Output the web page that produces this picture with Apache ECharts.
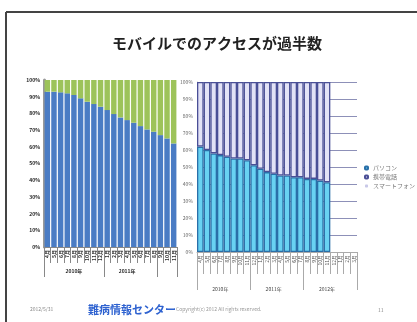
<!DOCTYPE html>
<html><head><meta charset="utf-8">
<script src="https://cdn.jsdelivr.net/npm/echarts@6/dist/echarts.min.js"></script>
<style>html,body{margin:0;padding:0;background:#fff}#c{width:417px;height:322px}</style>
</head><body><div id="c"></div>
<script>
// ---- data ----
const leftMonths = ['4月','5月','6月','7月','8月','9月','10月','11月','12月','1月','2月','3月','4月','5月','6月','7月','8月','9月','10月','11月'];
const leftGroupNames = ['2010年','2011年',''];
const leftGroupSizes = [9, 8, 3];
const leftMobile = [93, 93, 92.6, 92, 91, 89, 87, 85.6, 84, 82, 79.6, 77.6, 76, 74.4, 72.4, 70.4, 69, 67, 65, 62];
const leftPC     = [7, 7, 7.4, 8, 9, 11, 13, 14.4, 16, 18, 20.4, 22.4, 24, 25.6, 27.6, 29.6, 31, 33, 35, 38];

const rightMonths = ['4月','5月','6月','7月','8月','9月','10月','11月','12月','1月','2月','3月','4月','5月','6月','7月','8月','9月','10月','11月','12月','1月','2月','3月'];
const rightGroupNames = ['2010年','2011年','2012年'];
const rightGroupSizes = [8, 8, 8];
const rightPC     = [62, 60, 58, 57, 56, 55, 55, 54, 51, 49, 47, 46, 45, 45, 44, 44, 43, 43, 42, 41, null, null, null, null];
const rightMobile = [38, 40, 42, 43, 44, 45, 45, 46, 49, 51, 53, 54, 55, 55, 56, 56, 57, 57, 58, 59, null, null, null, null];
const rightSmart  = [];
const yTicks = ['0%','10%','20%','30%','40%','50%','60%','70%','80%','90%','100%'];
const seriesNames = ['パソコン','携帯電話','スマートフォン'];

// ---- helpers ----
function groupAxisData(names, sizes){
  const out = [];
  names.forEach((n,gi)=>{ const s=sizes[gi]; for(let i=0;i<s;i++){ out.push(i===Math.floor((s-1)/2)?n:''); } });
  return out;
}
function boundaries(sizes){
  const b = new Set([0]); let acc=0; sizes.forEach(s=>{acc+=s; b.add(acc);}); return b;
}
const lB = boundaries(leftGroupSizes), rB = boundaries(rightGroupSizes);
const FF = '"Noto Sans CJK JP","Noto Sans",sans-serif';

const chart = echarts.init(document.getElementById('c'), null, {renderer:'canvas'});
chart.setOption({
  animation:false,
  backgroundColor:'#fff',
  textStyle:{fontFamily:FF},
  grid:[
    {left:44, top:80, width:133, height:167},
    {left:197, top:82, width:160, height:170}
  ],
  legend:{
    data:seriesNames, orient:'vertical', left:359, top:160, itemGap:3,
    itemWidth:3, itemHeight:3, textStyle:{fontSize:6, color:'#777', fontFamily:FF}
  },
  xAxis:[
    {type:'category', gridIndex:0, data:leftMonths,
     axisLine:{lineStyle:{color:'#888'}}, axisTick:{show:true, lineStyle:{color:'#888'}, length:16},
     axisLabel:{rotate:90, fontSize:5, fontWeight:'bold', color:'#333', margin:3, interval:0}},
    {type:'category', gridIndex:0, position:'bottom', data:groupAxisData(leftGroupNames,leftGroupSizes),
     axisLine:{show:false},
     axisTick:{show:true, length:30, lineStyle:{color:'#888'}, interval:(i)=>lB.has(i)},
     axisLabel:{fontSize:5, fontWeight:'bold', color:'#222', margin:22, interval:(i,v)=>v!==''}},
    {type:'category', gridIndex:1, data:rightMonths,
     axisLine:{lineStyle:{color:'#aaa'}}, axisTick:{show:true, length:22, lineStyle:{color:'#aaa'}},
     axisLabel:{rotate:90, fontSize:5, color:'#555', margin:3, interval:0}},
    {type:'category', gridIndex:1, position:'bottom', data:groupAxisData(rightGroupNames,rightGroupSizes),
     axisLine:{show:false},
     axisTick:{show:true, length:38, lineStyle:{color:'#aaa'}, interval:(i)=>rB.has(i)},
     axisLabel:{fontSize:5, color:'#444', margin:35, interval:(i,v)=>v!==''}}
  ],
  yAxis:[
    {type:'value', gridIndex:0, min:0, max:100, interval:10,
     axisLine:{show:true, lineStyle:{color:'#999', width:3}}, axisTick:{show:false},
     splitLine:{show:false},
     axisLabel:{fontSize:5, fontWeight:'bold', color:'#222', margin:4, formatter:(v)=>yTicks[v/10]}},
    {type:'value', gridIndex:1, min:0, max:100, interval:10,
     axisLine:{show:true, lineStyle:{color:'#ccc'}}, axisTick:{show:false},
     splitLine:{show:true, lineStyle:{color:'#8d90b8', width:1}},
     axisLabel:{fontSize:5, color:'#666', margin:4, formatter:(v)=>yTicks[v/10]}}
  ],
  series:[
    {type:'bar', xAxisIndex:0, yAxisIndex:0, stack:'L', data:leftMobile, barCategoryGap:'18%',
     itemStyle:{color:'#4a7cc4'}},
    {type:'bar', xAxisIndex:0, yAxisIndex:0, stack:'L', data:leftPC,
     itemStyle:{color:'#9dc35a'}},
    {name:seriesNames[0], type:'bar', xAxisIndex:2, yAxisIndex:1, stack:'R', data:rightPC, barCategoryGap:'0%',
     itemStyle:{color:'#68d2f2', borderColor:'#2a6fa8', borderWidth:1.3}},
    {name:seriesNames[1], type:'bar', xAxisIndex:2, yAxisIndex:1, stack:'R', data:rightMobile,
     itemStyle:{color:'#e2e2f6', borderColor:'#4a4f96', borderWidth:1.3}},
    {name:seriesNames[2], type:'bar', xAxisIndex:2, yAxisIndex:1, stack:'R', data:rightSmart,
     itemStyle:{color:'#c8c8e8'}}
  ],
  graphic:[
    {type:'line', shape:{x1:6, y1:12, x2:417, y2:12}, style:{stroke:'#444', lineWidth:2}},
    {type:'line', shape:{x1:6, y1:12, x2:6, y2:322}, style:{stroke:'#444', lineWidth:2}},
    {type:'text', x:217, y:43, style:{text:'モバイルでのアクセスが過半数', font:'bold 15px '+FF, fill:'#222', textAlign:'center', textVerticalAlign:'middle'}},
    {type:'text', x:30, y:309, style:{text:'2012/5/31', font:'5px '+FF, fill:'#888', textVerticalAlign:'middle'}},
    {type:'text', x:88, y:310, style:{text:'難病情報センター', font:'bold 11px '+FF, fill:'#2e62d0', textVerticalAlign:'middle'}},
    {type:'text', x:176, y:309, style:{text:'Copyright(c) 2012 All rights reserved.', font:'5px '+FF, fill:'#999', textVerticalAlign:'middle'}},
    {type:'text', x:378, y:310, style:{text:'11', font:'5px '+FF, fill:'#888', textVerticalAlign:'middle'}}
  ]
});
</script></body></html>
